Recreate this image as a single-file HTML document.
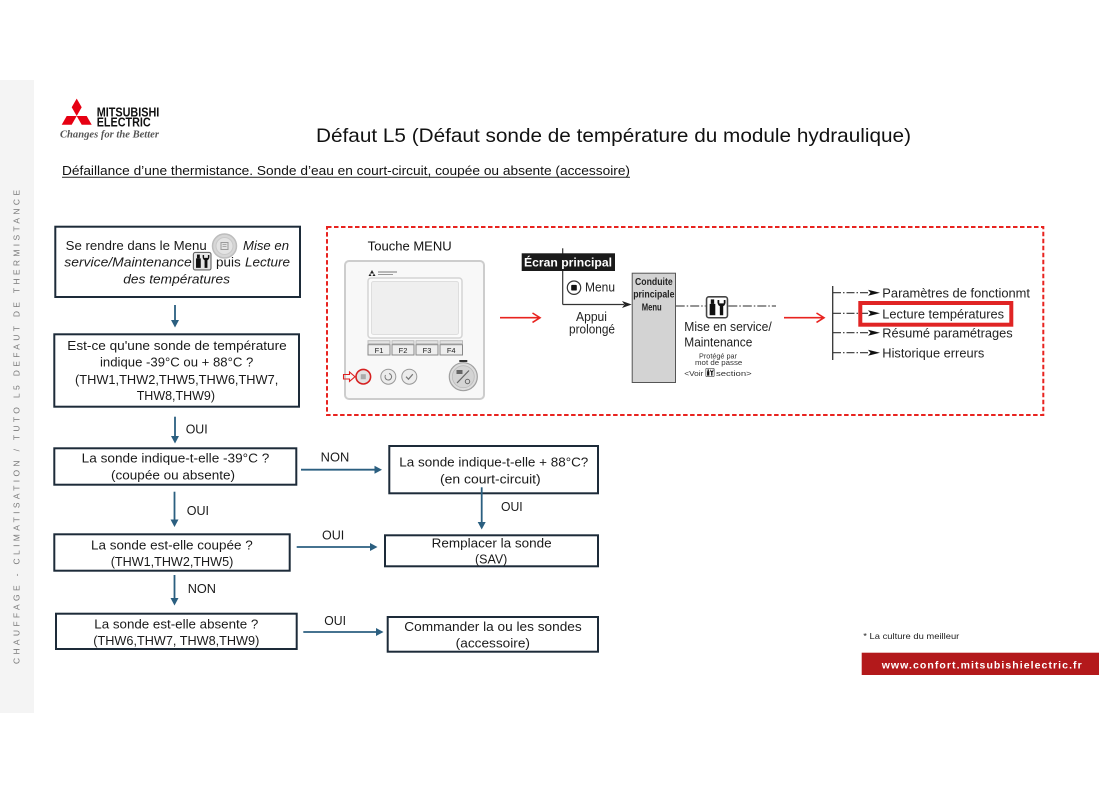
<!DOCTYPE html>
<html>
<head>
<meta charset="utf-8">
<style>
  html,body{margin:0;padding:0;background:#fff;}
  body{width:1119px;height:791px;overflow:hidden;}
  svg{display:block;}
</style>
</head>
<body>
<svg width="1119" height="791" viewBox="0 0 1119 791" xmlns="http://www.w3.org/2000/svg" font-family="'Liberation Sans', Arial, sans-serif">
  <rect x="0" y="0" width="1119" height="791" fill="#ffffff"/>
  <!-- left gray strip -->
  <rect x="0" y="80" width="34" height="633" fill="#f4f4f4"/>
  <text transform="translate(19.5,664) rotate(-90)" x="0" y="0" font-size="8.5" fill="#7a7a7a" textLength="474" lengthAdjust="spacing">CHAUFFAGE - CLIMATISATION / TUTO L5 DEFAUT DE THERMISTANCE</text>

  <!-- logo -->
  <g fill="#e60012">
    <polygon points="76.7,116 71.7,107.3 76.7,98.6 81.7,107.3"/>
    <polygon points="76.7,116 66.7,116 61.7,124.7 71.7,124.7"/>
    <polygon points="76.7,116 86.7,116 91.7,124.7 81.7,124.7"/>
  </g>
  <text x="96.7" y="116.7" font-size="12.5" font-weight="bold" fill="#111" textLength="62.6" lengthAdjust="spacingAndGlyphs">MITSUBISHI</text>
  <text x="96.7" y="126.7" font-size="12.5" font-weight="bold" fill="#111" textLength="54" lengthAdjust="spacingAndGlyphs">ELECTRIC</text>
  <text x="60" y="137.5" font-family="'Liberation Serif', serif" font-style="italic" font-weight="bold" font-size="11" fill="#555" textLength="99" lengthAdjust="spacingAndGlyphs">Changes for the Better</text>

  <!-- title -->
  <text x="316" y="142" font-size="19.5" fill="#111" textLength="595" lengthAdjust="spacingAndGlyphs">Défaut L5 (Défaut sonde de température du module hydraulique)</text>
  <text x="62" y="175" font-size="12.5" fill="#111" textLength="568" lengthAdjust="spacingAndGlyphs">Défaillance d’une thermistance. Sonde d’eau en court-circuit, coupée ou absente (accessoire)</text>
  <line x1="62" y1="177.3" x2="630" y2="177.3" stroke="#222" stroke-width="1"/>

  <!-- ============ FLOW BOXES ============ -->
  <g fill="none" stroke="#1d2b39" stroke-width="2">
    <rect x="55.3" y="226.7" width="244.7" height="70.3"/>
    <rect x="54.3" y="334.3" width="244.7" height="72.4"/>
    <rect x="54.3" y="448.3" width="242" height="36.4"/>
    <rect x="389.3" y="446" width="208.7" height="47.3"/>
    <rect x="385" y="535.3" width="213" height="31"/>
    <rect x="54.3" y="534.3" width="235.4" height="36.4"/>
    <rect x="56" y="613.7" width="240.7" height="35.3"/>
    <rect x="387.7" y="617" width="210.3" height="34.7"/>
  </g>

  <g font-size="12.8" fill="#1a1a1a">
    <!-- box 1 -->
    <text x="65.7" y="250" textLength="141" lengthAdjust="spacingAndGlyphs">Se rendre dans le Menu</text>
    <text x="243" y="250" font-style="italic" textLength="46" lengthAdjust="spacingAndGlyphs">Mise en</text>
    <text x="64.3" y="266.7" font-style="italic" textLength="127.4" lengthAdjust="spacingAndGlyphs">service/Maintenance</text>
    <text x="216" y="266.7" textLength="24.7" lengthAdjust="spacingAndGlyphs">puis</text>
    <text x="245" y="266.7" font-style="italic" textLength="45" lengthAdjust="spacingAndGlyphs">Lecture</text>
    <text x="123.3" y="283.3" font-style="italic" textLength="106.7" lengthAdjust="spacingAndGlyphs">des températures</text>
    <!-- box 2 -->
    <text x="67.3" y="350" textLength="219.4" lengthAdjust="spacingAndGlyphs">Est-ce qu'une sonde de température</text>
    <text x="100" y="366.7" textLength="153.3" lengthAdjust="spacingAndGlyphs">indique -39°C ou + 88°C ?</text>
    <text x="75" y="384" textLength="203.3" lengthAdjust="spacingAndGlyphs">(THW1,THW2,THW5,THW6,THW7,</text>
    <text x="136.7" y="400" textLength="78.3" lengthAdjust="spacingAndGlyphs">THW8,THW9)</text>
    <!-- box 3 -->
    <text x="81.7" y="462.7" textLength="187.6" lengthAdjust="spacingAndGlyphs">La sonde indique-t-elle -39°C ?</text>
    <text x="111" y="479.3" textLength="124" lengthAdjust="spacingAndGlyphs">(coupée ou absente)</text>
    <!-- box 4 -->
    <text x="399.3" y="466.7" textLength="189" lengthAdjust="spacingAndGlyphs">La sonde indique-t-elle + 88°C?</text>
    <text x="440" y="483.3" textLength="100.7" lengthAdjust="spacingAndGlyphs">(en court-circuit)</text>
    <!-- box 5 -->
    <text x="431.7" y="547.3" textLength="120" lengthAdjust="spacingAndGlyphs">Remplacer la sonde</text>
    <text x="475" y="563.3" textLength="32.3" lengthAdjust="spacingAndGlyphs">(SAV)</text>
    <!-- box 6 -->
    <text x="91" y="549.3" textLength="161.7" lengthAdjust="spacingAndGlyphs">La sonde est-elle coupée ?</text>
    <text x="110.7" y="566" textLength="122.6" lengthAdjust="spacingAndGlyphs">(THW1,THW2,THW5)</text>
    <!-- box 7 -->
    <text x="94.3" y="628.3" textLength="164" lengthAdjust="spacingAndGlyphs">La sonde est-elle absente ?</text>
    <text x="93.3" y="645" textLength="166" lengthAdjust="spacingAndGlyphs">(THW6,THW7, THW8,THW9)</text>
    <!-- box 8 -->
    <text x="404.3" y="631" textLength="177.4" lengthAdjust="spacingAndGlyphs">Commander la ou les sondes</text>
    <text x="455.7" y="647.7" textLength="74.3" lengthAdjust="spacingAndGlyphs">(accessoire)</text>

    <!-- connector labels -->
    <text x="185.7" y="433.3" textLength="22" lengthAdjust="spacingAndGlyphs">OUI</text>
    <text x="320.7" y="461.7" textLength="28.6" lengthAdjust="spacingAndGlyphs">NON</text>
    <text x="501" y="511" textLength="21.7" lengthAdjust="spacingAndGlyphs">OUI</text>
    <text x="186.7" y="515" textLength="22.3" lengthAdjust="spacingAndGlyphs">OUI</text>
    <text x="322" y="539.3" textLength="22.3" lengthAdjust="spacingAndGlyphs">OUI</text>
    <text x="187.7" y="593" textLength="28.3" lengthAdjust="spacingAndGlyphs">NON</text>
    <text x="324.3" y="625" textLength="21.7" lengthAdjust="spacingAndGlyphs">OUI</text>
  </g>

  <!-- box1 icons -->
  <circle cx="224.5" cy="246" r="12" fill="#d6d6d6" stroke="#bdbdbd" stroke-width="1.5"/>
  <circle cx="224.5" cy="246" r="8.5" fill="#e3e3e3" stroke="#c9c9c9" stroke-width="1"/>
  <rect x="221" y="242.5" width="7" height="7" fill="none" stroke="#9a9a9a" stroke-width="1"/>
  <line x1="222.5" y1="244.5" x2="226.5" y2="244.5" stroke="#9a9a9a" stroke-width="0.8"/>
  <line x1="222.5" y1="246.5" x2="226.5" y2="246.5" stroke="#9a9a9a" stroke-width="0.8"/>
  <g transform="translate(192.7,251.7) scale(0.95)">
    <rect x="0.75" y="0.75" width="18.5" height="18.5" rx="2" fill="#e6e6e6" stroke="#666" stroke-width="1.2"/>
    <rect x="4.5" y="3" width="3" height="4" fill="#111"/>
    <rect x="3.5" y="7" width="5" height="10" fill="#111"/>
    <path d="M10.5 3.5 Q10 8 12.5 9 L12.5 17 L15.5 17 L15.5 9 Q18 8 17.5 3.5 L16 3.5 L16 6.5 L12 6.5 L12 3.5 Z" fill="#111"/>
  </g>

  <!-- flow connectors -->
  <g stroke="#2b5f80" stroke-width="1.8" fill="none">
    <line x1="175" y1="305" x2="175" y2="321"/>
    <line x1="175" y1="416.7" x2="175" y2="437"/>
    <line x1="301" y1="469.7" x2="375" y2="469.7"/>
    <line x1="481.7" y1="487.3" x2="481.7" y2="523"/>
    <line x1="174.5" y1="491.7" x2="174.5" y2="520.5"/>
    <line x1="296.7" y1="547" x2="371" y2="547"/>
    <line x1="174.5" y1="575" x2="174.5" y2="599"/>
    <line x1="303.3" y1="632" x2="377" y2="632"/>
  </g>
  <g fill="#2b5f80">
    <polygon points="171,320 179,320 175,327.5"/>
    <polygon points="171,436 179,436 175,443.5"/>
    <polygon points="374.5,465.7 374.5,473.7 382,469.7"/>
    <polygon points="477.7,522 485.7,522 481.7,529.5"/>
    <polygon points="170.5,519.5 178.5,519.5 174.5,527"/>
    <polygon points="370,543 370,551 377.5,547"/>
    <polygon points="170.5,598 178.5,598 174.5,605.5"/>
    <polygon points="376,628 376,636 383.5,632"/>
  </g>

  <!-- ============ DASHED RED PANEL ============ -->
  <rect x="327" y="227" width="716.3" height="188" fill="none" stroke="#e8231f" stroke-width="2" stroke-dasharray="4.5 2.5"/>
  <text x="367.7" y="250.7" font-size="13" fill="#111" textLength="84" lengthAdjust="spacingAndGlyphs">Touche MENU</text>

  <!-- remote controller -->
  <rect x="345" y="261" width="139" height="138" rx="4" fill="#f8f8f8" stroke="#cdcdcd" stroke-width="2"/>
  <polygon points="372,270 370,273.5 374,273.5" fill="#222"/>
  <polygon points="370,273.5 368.5,276 371.5,276" fill="#222"/>
  <polygon points="374,273.5 372.5,276 375.5,276" fill="#222"/>
  <line x1="378" y1="272" x2="397" y2="272" stroke="#777" stroke-width="1"/>
  <line x1="378" y1="274.5" x2="393" y2="274.5" stroke="#999" stroke-width="1"/>
  <rect x="368" y="278" width="94" height="60" rx="3" fill="#fbfbfb" stroke="#d4d4d4" stroke-width="1.5"/>
  <rect x="371.5" y="281.5" width="87" height="53" rx="2" fill="#efefef" stroke="#dedede" stroke-width="1"/>
  <g stroke="#bbb" stroke-width="1">
    <rect x="368" y="340.7" width="22" height="3" fill="#e4e4e4"/>
    <rect x="392" y="340.7" width="22" height="3" fill="#e4e4e4"/>
    <rect x="416" y="340.7" width="22" height="3" fill="#e4e4e4"/>
    <rect x="440" y="340.7" width="22.5" height="3" fill="#e4e4e4"/>
  </g>
  <g stroke="#888" stroke-width="1" fill="#eeeeee">
    <rect x="368" y="344.7" width="22" height="10.3"/>
    <rect x="392" y="344.7" width="22" height="10.3"/>
    <rect x="416" y="344.7" width="22" height="10.3"/>
    <rect x="440" y="344.7" width="22.5" height="10.3"/>
  </g>
  <g font-size="7.5" fill="#222" text-anchor="middle">
    <text x="379" y="353">F1</text>
    <text x="403" y="353">F2</text>
    <text x="427" y="353">F3</text>
    <text x="451.2" y="353">F4</text>
  </g>
  <circle cx="363.3" cy="376.7" r="7.3" fill="#e2e2e2" stroke="#d62020" stroke-width="1.6"/>
  <rect x="360.8" y="374.2" width="5" height="5" fill="#aaa"/>
  <circle cx="388.3" cy="376.7" r="7.5" fill="#ececec" stroke="#999" stroke-width="1"/>
  <path d="M385.5 375 A3.3 3.3 0 1 0 389 373.5" fill="none" stroke="#777" stroke-width="1"/>
  <circle cx="409.3" cy="376.7" r="7.5" fill="#ececec" stroke="#999" stroke-width="1"/>
  <path d="M406 376.7 L408.5 379.2 L412.8 374.2" fill="none" stroke="#777" stroke-width="1.2"/>
  <rect x="459.3" y="360" width="8" height="2" fill="#333"/>
  <circle cx="463.3" cy="376.7" r="14" fill="#dcdcdc" stroke="#a0a0a0" stroke-width="1.2"/>
  <circle cx="463.3" cy="376.7" r="11" fill="#d4d4d4" stroke="#bbb" stroke-width="0.8"/>
  <line x1="457" y1="383" x2="469" y2="370.5" stroke="#666" stroke-width="1.2"/>
  <rect x="456.5" y="370" width="6" height="4" fill="#666"/>
  <circle cx="467.5" cy="381.5" r="2.2" fill="none" stroke="#666" stroke-width="1"/>
  <path d="M343.5 374.5 L349.5 374.5 L349.5 372 L355 376.7 L349.5 381.4 L349.5 379 L343.5 379 Z" fill="none" stroke="#e02020" stroke-width="1.1"/>

  <!-- red arrows -->
  <g stroke="#e8231f" stroke-width="1.6" fill="none">
    <line x1="500" y1="317.7" x2="539" y2="317.7"/>
    <polyline points="532.5,313 540,317.7 532.5,322.4"/>
    <line x1="784" y1="317.7" x2="823" y2="317.7"/>
    <polyline points="816.5,313 824,317.7 816.5,322.4"/>
  </g>

  <!-- Ecran principal -->
  <line x1="562.7" y1="248.3" x2="562.7" y2="304.5" stroke="#333" stroke-width="1.2"/>
  <line x1="562.7" y1="304.5" x2="624" y2="304.5" stroke="#333" stroke-width="1.2"/>
  <polygon points="622,301 631.7,304.5 622,308 624.5,304.5" fill="#222"/>
  <rect x="521.7" y="253.3" width="93.3" height="17.7" fill="#1a1a1a"/>
  <text x="524" y="266.3" font-size="11.5" font-weight="bold" fill="#fff" textLength="88" lengthAdjust="spacingAndGlyphs">Écran principal</text>
  <circle cx="574" cy="287.7" r="6.7" fill="#fff" stroke="#333" stroke-width="1.2"/>
  <rect x="571.2" y="284.9" width="5.6" height="5.6" rx="0.8" fill="#111"/>
  <g font-size="12.5" fill="#222">
    <text x="585" y="291.7" textLength="30" lengthAdjust="spacingAndGlyphs">Menu</text>
    <text x="576" y="321" textLength="31" lengthAdjust="spacingAndGlyphs">Appui</text>
    <text x="569" y="333.3" textLength="46" lengthAdjust="spacingAndGlyphs">prolongé</text>
  </g>

  <!-- gray menu box -->
  <rect x="632.2" y="273.2" width="43.3" height="109.3" fill="#d3d3d3" stroke="#555" stroke-width="1"/>
  <g font-size="10" font-weight="bold" fill="#222">
    <text x="635" y="285" textLength="37.7" lengthAdjust="spacingAndGlyphs">Conduite</text>
    <text x="633.2" y="297.3" textLength="41.3" lengthAdjust="spacingAndGlyphs">principale</text>
    <text x="641.7" y="310.7" textLength="20" lengthAdjust="spacingAndGlyphs">Menu</text>
  </g>

  <!-- dash-dot connector -->
  <g stroke="#555" stroke-width="1.2" stroke-dasharray="9 2 1.5 2">
    <line x1="675.7" y1="306" x2="705.7" y2="306"/>
    <line x1="728.3" y1="306" x2="776" y2="306"/>
  </g>
  <g transform="translate(705.7,296) scale(1.13)">
    <rect x="0.75" y="0.75" width="18.5" height="18.5" rx="2" fill="#fff" stroke="#444" stroke-width="1.4"/>
    <rect x="4.5" y="3" width="3" height="4" fill="#111"/>
    <rect x="3.5" y="7" width="5" height="10" fill="#111"/>
    <path d="M10.5 3.5 Q10 8 12.5 9 L12.5 17 L15.5 17 L15.5 9 Q18 8 17.5 3.5 L16 3.5 L16 6.5 L12 6.5 L12 3.5 Z" fill="#111"/>
  </g>
  <g font-size="12.5" fill="#222">
    <text x="684.3" y="331" textLength="87.4" lengthAdjust="spacingAndGlyphs">Mise en service/</text>
    <text x="684.3" y="346.7" textLength="68" lengthAdjust="spacingAndGlyphs">Maintenance</text>
  </g>
  <g font-size="7.5" fill="#333">
    <text x="699" y="358.3" textLength="38" lengthAdjust="spacingAndGlyphs">Protégé par</text>
    <text x="695" y="365" textLength="47.3" lengthAdjust="spacingAndGlyphs">mot de passe</text>
    <text x="684.3" y="376" textLength="19" lengthAdjust="spacingAndGlyphs">&lt;Voir</text>
    <text x="716" y="376" textLength="35.7" lengthAdjust="spacingAndGlyphs">section&gt;</text>
  </g>
  <g transform="translate(705.5,368) scale(0.45)">
    <rect x="0.75" y="0.75" width="18.5" height="18.5" rx="2" fill="#fff" stroke="#444" stroke-width="1.5"/>
    <rect x="4.5" y="3" width="3" height="4" fill="#111"/>
    <rect x="3.5" y="7" width="5" height="10" fill="#111"/>
    <path d="M10.5 3.5 Q10 8 12.5 9 L12.5 17 L15.5 17 L15.5 9 Q18 8 17.5 3.5 L16 3.5 L16 6.5 L12 6.5 L12 3.5 Z" fill="#111"/>
  </g>

  <!-- tree -->
  <line x1="832.7" y1="286" x2="832.7" y2="360" stroke="#333" stroke-width="1.3"/>
  <g stroke="#333" stroke-width="1.1" stroke-dasharray="8 2 1.5 2">
    <line x1="833" y1="292.7" x2="870" y2="292.7"/>
    <line x1="833" y1="313.3" x2="870" y2="313.3"/>
    <line x1="833" y1="332.7" x2="870" y2="332.7"/>
    <line x1="833" y1="352.7" x2="870" y2="352.7"/>
  </g>
  <g fill="#111">
    <polygon points="868,289.7 880,292.7 868,295.7 870.5,292.7"/>
    <polygon points="868,310.3 880,313.3 868,316.3 870.5,313.3"/>
    <polygon points="868,329.7 880,332.7 868,335.7 870.5,332.7"/>
    <polygon points="868,349.7 880,352.7 868,355.7 870.5,352.7"/>
  </g>
  <g font-size="12.5" fill="#222">
    <text x="882.3" y="297.3" textLength="147.7" lengthAdjust="spacingAndGlyphs">Paramètres de fonctionmt</text>
    <text x="882.3" y="318.3" textLength="121.7" lengthAdjust="spacingAndGlyphs">Lecture températures</text>
    <text x="882.3" y="337.3" textLength="130.4" lengthAdjust="spacingAndGlyphs">Résumé paramétrages</text>
    <text x="882.3" y="357.3" textLength="102" lengthAdjust="spacingAndGlyphs">Historique erreurs</text>
  </g>
  <rect x="860.3" y="303" width="151" height="21.7" fill="none" stroke="#e02424" stroke-width="4"/>

  <!-- footer -->
  <text x="863.3" y="639" font-size="8.5" fill="#222" textLength="96" lengthAdjust="spacingAndGlyphs">* La culture du meilleur</text>
  <rect x="861.7" y="652.7" width="237.3" height="22.3" fill="#b3191b"/>
  <text x="881.7" y="668.3" font-size="10.5" font-weight="bold" fill="#ffffff" textLength="200" lengthAdjust="spacing">www.confort.mitsubishielectric.fr</text>
</svg>
</body>
</html>
